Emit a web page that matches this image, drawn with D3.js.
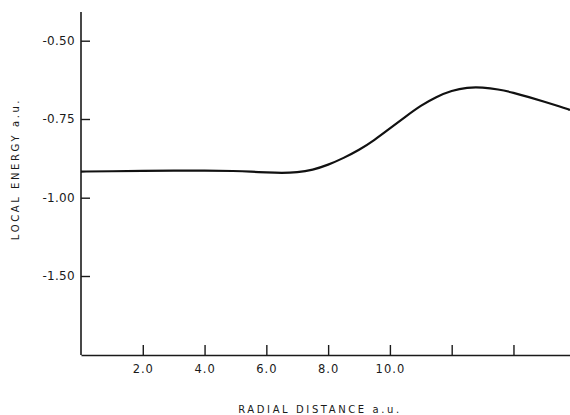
<!DOCTYPE html>
<html>
<head>
<meta charset="utf-8">
<script src="https://cdn.jsdelivr.net/npm/d3@7"></script>
<style>
    body { margin: 0; background: #fff; }
    svg text { font-family: "DejaVu Sans", sans-serif; fill: #1a1a1a; }
</style>
</head>
<body>
<script>
// radial distance (a.u.) and local energy (a.u.)
const radius = [0, 1, 2, 3, 4, 5, 5.5, 6, 6.5, 7, 7.5, 8, 8.5, 9, 9.5, 10, 10.5, 11, 11.5, 12, 12.5, 13, 13.5, 14, 14.5, 15, 15.5, 15.83];
const energy = [-0.917, -0.916, -0.915, -0.914, -0.914, -0.915, -0.917, -0.920, -0.922, -0.920, -0.912, -0.896, -0.874, -0.849, -0.817, -0.780, -0.743, -0.707, -0.679, -0.659, -0.649, -0.649, -0.655, -0.666, -0.680, -0.695, -0.710, -0.721];

const xTicks = [2, 4, 6, 8, 10, 12, 14];
const xTickLabels = ['2.0', '4.0', '6.0', '8.0', '10.0', '', ''];
const yTicks = [-0.5, -0.75, -1.0, -1.5];
const yTickLabels = ['-0.50', '-0.75', '-1.00', '-1.50'];

const width = 570;
const height = 415;
const margin = {left: 81, top: 12, right: 0, bottom: 60};

const svg = d3.select('body')
    .append('svg')
    .attr('width', width)
    .attr('height', height);

const x = d3.scaleLinear()
    .domain([0, 15.83])
    .range([margin.left, width - margin.right]);

// the original axis is not linear: equal spacing between the labelled values
const y = d3.scaleLinear()
    .domain([-0.5, -0.75, -1.0, -1.5])
    .range([40.7, 119, 197.7, 276]);

const bottom = height - margin.bottom;

// x axis
const xAxis = svg.append('g')
    .attr('transform', `translate(0,${bottom})`)
    .call(d3.axisBottom(x)
        .tickValues(xTicks)
        .tickFormat((d, i) => xTickLabels[i])
        .tickSizeInner(-10)
        .tickSizeOuter(0)
        .tickPadding(8));

xAxis.select('.domain')
    .attr('stroke', '#1a1a1a')
    .attr('stroke-width', 1.6);

xAxis.selectAll('.tick line')
    .attr('stroke', '#1a1a1a')
    .attr('stroke-width', 1.4);

xAxis.selectAll('.tick text')
    .attr('y', 10)
    .style('font-size', '11.5px')
    .style('letter-spacing', '1px');

// y axis
const yAxis = svg.append('g')
    .attr('transform', `translate(${margin.left},0)`)
    .call(d3.axisLeft(y)
        .tickValues(yTicks)
        .tickFormat((d, i) => yTickLabels[i])
        .tickSizeInner(-9)
        .tickSizeOuter(0)
        .tickPadding(14));

yAxis.select('.domain').remove();
yAxis.append('line')
    .attr('x1', 0)
    .attr('x2', 0)
    .attr('y1', margin.top)
    .attr('y2', bottom)
    .attr('stroke', '#1a1a1a')
    .attr('stroke-width', 1.6);

yAxis.selectAll('.tick line')
    .attr('stroke', '#1a1a1a')
    .attr('stroke-width', 1.4);

yAxis.selectAll('.tick text')
    .attr('x', -6)
    .style('font-size', '12px')
    .style('letter-spacing', '0.3px');

// axis titles
svg.append('text')
    .attr('x', 320)
    .attr('y', 413)
    .attr('text-anchor', 'middle')
    .style('font-size', '10px')
    .style('letter-spacing', '2.6px')
    .text('RADIAL DISTANCE  a.u.');

svg.append('text')
    .attr('transform', 'translate(19,169) rotate(-90)')
    .attr('text-anchor', 'middle')
    .style('font-size', '10px')
    .style('letter-spacing', '2.6px')
    .text('LOCAL ENERGY  a.u.');

// curve
const data = radius.map((r, i) => ({r: r, e: energy[i]}));

const line = d3.line()
    .x((d) => x(d.r))
    .y((d) => y(d.e))
    .curve(d3.curveBasis);

svg.append('path')
    .attr('d', line(data))
    .attr('fill', 'none')
    .attr('stroke', '#111')
    .attr('stroke-width', 2.2);
</script>
</body>
</html>
